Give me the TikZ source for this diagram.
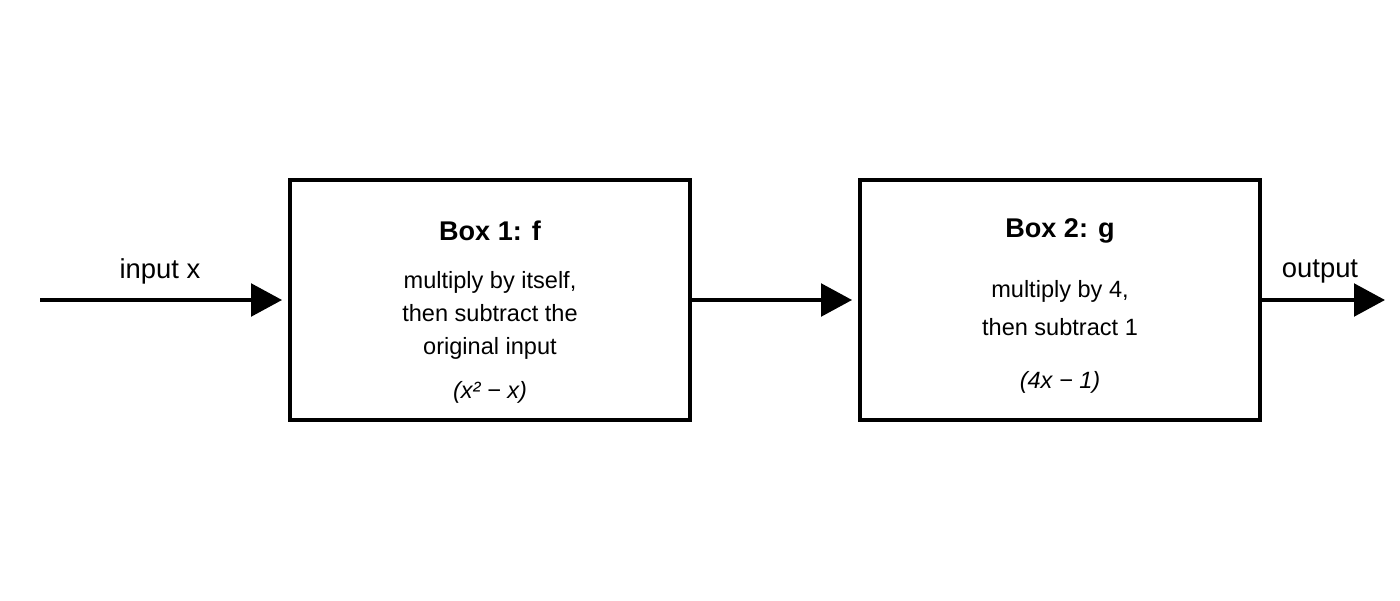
\documentclass[tikz,border=0pt]{standalone}
\usepackage{fontspec}
\setmainfont{Liberation Sans}
\usetikzlibrary{arrows.meta}
\tikzset{
  box/.style={draw, line width=2.2pt, minimum width=8cm, minimum height=4.8cm},
  title/.style={font=\fontsize{15.4}{18}\selectfont\bfseries},
  body/.style={font=\fontsize{13.4}{18.8}\selectfont, align=center},
  wide/.style={body, font=\fontsize{13.4}{21.5}\selectfont},
  lbl/.style={font=\fontsize{15.6}{18}\selectfont},
  flow/.style={line width=2.2pt, -{Triangle[length=0.62cm,width=0.65cm]}}
}
\begin{document}
\begin{tikzpicture}
\useasboundingbox (0,0) rectangle (28,12);
% boxes
\node[box] (f) at (9.8,6) {};
\node[box] (g) at (21.2,6) {};
\node[title] (ft) at (9.8,7.38) {Box 1: f};
\node[body] (fb) at (9.8,5.7) {multiply by itself,\\then subtract the\\original input};
\node[body] (fx) at (9.8,4.16) {\itshape (x² − x)};
\node[title] (gt) at (21.2,7.38) {Box 2: g};
\node[wide] (gb) at (21.2,5.84) {multiply by 4,\\then subtract 1};
\node[body] (gx) at (21.2,4.36) {\itshape (4x − 1)};
% ends
\coordinate (in) at (0.8,6);
\coordinate (out) at (27.7,6);
\node[lbl] (inl) at (3.2,6.58) {input x};
\node[lbl] (outl) at (26.4,6.58) {output};
% arrows
\draw[flow] (in) -- ([xshift=-0.12cm]f.west);
\draw[flow] (f.east) -- ([xshift=-0.12cm]g.west);
\draw[flow] (g.east) -- (out);
\end{tikzpicture}
\end{document}
